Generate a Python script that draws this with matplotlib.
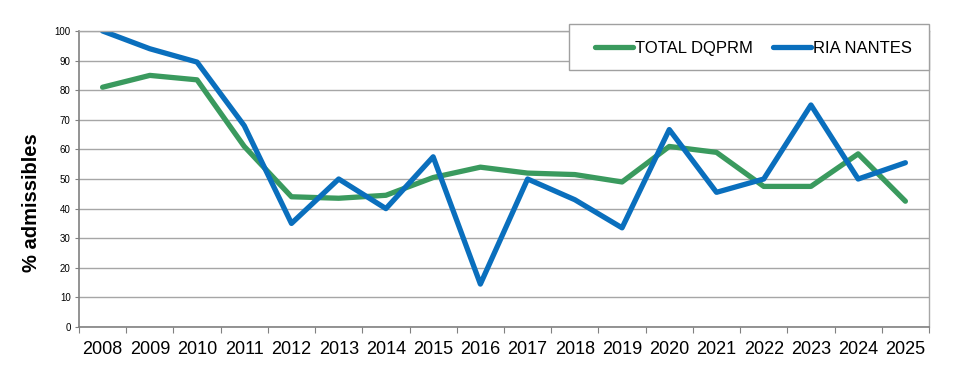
import matplotlib
matplotlib.use("Agg")
import matplotlib.pyplot as plt
from matplotlib.patches import Rectangle
import numpy as np

years = ["2008", "2009", "2010", "2011", "2012", "2013", "2014", "2015", "2016",
         "2017", "2018", "2019", "2020", "2021", "2022", "2023", "2024", "2025"]
total_dqprm = [81, 85, 83.5, 61, 44, 43.5, 44.5, 50.5, 54,
               52, 51.5, 49, 61, 59, 47.5, 47.5, 58.5, 42.5]
ria_nantes = [100, 94, 89.5, 68, 35, 50, 40, 57.5, 14.5,
              50, 43, 33.5, 66.7, 45.5, 50, 75, 50, 55.5]

plt.rcParams['font.family'] = ['Liberation Sans', 'DejaVu Sans']

fig = plt.figure(figsize=(9.62, 3.85), dpi=100)
ax = fig.add_axes([0.0821, 0.1506, 0.8836, 0.7689])

x = np.arange(len(years)) + 0.5
ax.plot(x, total_dqprm, color='#3a9a5e', lw=3.8, label='TOTAL DQPRM', solid_capstyle='round')
ax.plot(x, ria_nantes, color='#0a6fbd', lw=3.8, label='RIA NANTES', solid_capstyle='round')

ax.set_xlim(0, len(years))
ax.set_ylim(0, 100)
ax.set_yticks(np.arange(0, 101, 10))
ax.tick_params(axis='y', labelsize=7, length=3, color='#808080', pad=3)
ax.set_xticks(np.arange(len(years) + 1), minor=False)
ax.set_xticklabels([])
ax.set_xticks(x, minor=True)
ax.set_xticklabels(years, minor=True)
ax.tick_params(axis='x', which='major', length=4, color='#808080')
ax.tick_params(axis='x', which='minor', length=0, labelsize=13, pad=10)

ax.grid(axis='y', color='#a6a6a6', lw=1)
ax.set_axisbelow(True)
for s in ['left', 'bottom']:
    ax.spines[s].set_color('#808080')
    ax.spines[s].set_linewidth(1.2)
for s in ['top', 'right']:
    ax.spines[s].set_color('#a6a6a6')
    ax.spines[s].set_linewidth(1)

ax.set_ylabel('% admissibles', fontsize=14.5, fontweight='bold')
ax.yaxis.set_label_coords(-0.045, 0.42)

# legend box drawn separately so it can be wider on the left, like the original
box = Rectangle((0.5765, 0.868), 0.4235, 0.1556, transform=ax.transAxes,
                facecolor='white', edgecolor='#a0a0a0', lw=1, clip_on=False, zorder=4.9)
ax.add_patch(box)
leg = ax.legend(loc='upper right', bbox_to_anchor=(0.998, 1.017), ncol=2, fontsize=12,
                frameon=False, handlelength=2.3, handletextpad=0.12,
                columnspacing=1.2, borderpad=0.9, borderaxespad=0)
leg.set_zorder(5)

fig.savefig('out.png', dpi=100)
